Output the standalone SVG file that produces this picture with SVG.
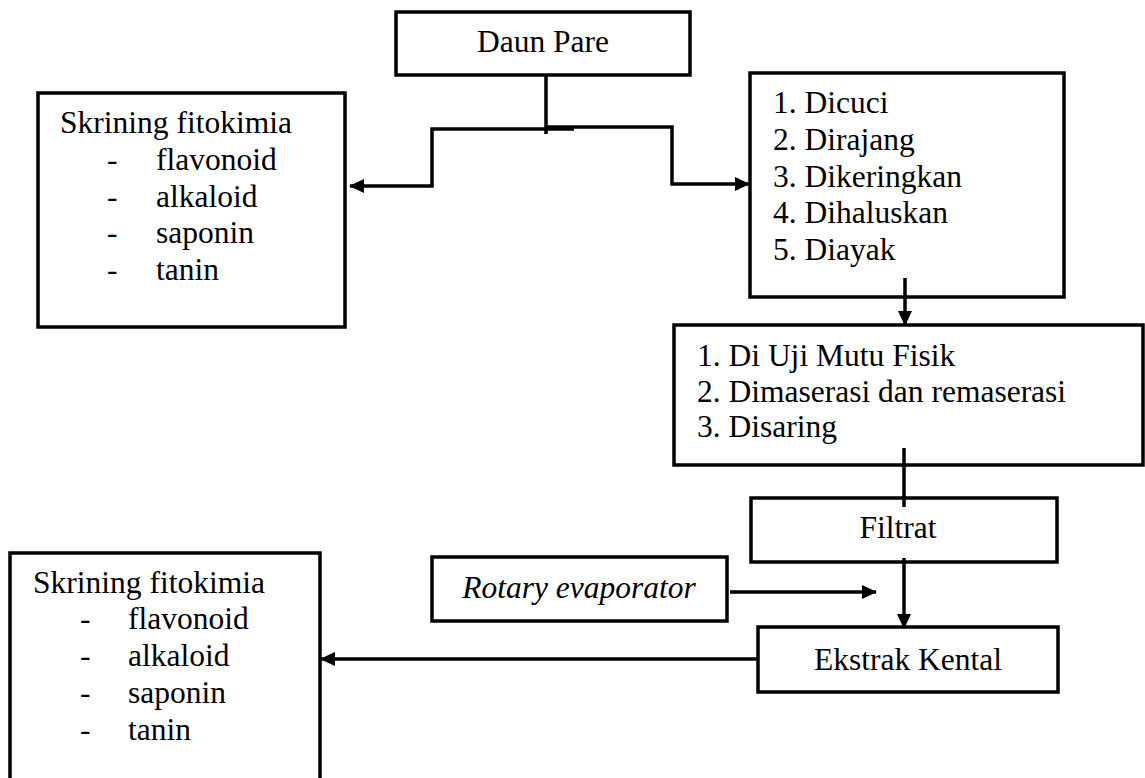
<svg xmlns="http://www.w3.org/2000/svg" width="1145" height="778" viewBox="0 0 1145 778">
<style>
.box{fill:#fff;stroke:#000;stroke-width:3.5}
.t{font-family:"Liberation Serif","Times New Roman",serif;font-size:31.5px;fill:#000}
.c{text-anchor:middle}
.i{font-style:italic}
.ln{fill:none;stroke:#000;stroke-width:3.5}
</style>
<defs>
<marker id="ah" markerUnits="userSpaceOnUse" markerWidth="15" markerHeight="14" refX="14" refY="7" orient="auto">
<path d="M0,0 L15,7 L0,14 z" fill="#000"/>
</marker>
</defs>
<rect width="1145" height="778" fill="#fff"/>
<g id="daun-pare">
<rect class="box" x="396" y="12" width="294" height="63"/>
<text class="t c" x="543" y="52">Daun Pare</text>
</g>
<g id="skrining-1">
<rect class="box" x="38" y="93" width="307" height="234"/>
<text class="t" x="60" y="133">Skrining fitokimia</text>
<text class="t" x="107" y="170">-</text><text class="t" x="156" y="170">flavonoid</text>
<text class="t" x="107" y="207">-</text><text class="t" x="156" y="207">alkaloid</text>
<text class="t" x="107" y="243">-</text><text class="t" x="156" y="243">saponin</text>
<text class="t" x="107" y="280">-</text><text class="t" x="156" y="280">tanin</text>
</g>
<g id="persiapan">
<rect class="box" x="750" y="73" width="314" height="224"/>
<text class="t" x="773" y="113">1. Dicuci</text>
<text class="t" x="773" y="150">2. Dirajang</text>
<text class="t" x="773" y="187">3. Dikeringkan</text>
<text class="t" x="773" y="223">4. Dihaluskan</text>
<text class="t" x="773" y="260">5. Diayak</text>
</g>
<g id="maserasi">
<rect class="box" x="674" y="325" width="469" height="140"/>
<text class="t" x="697" y="366">1. Di Uji Mutu Fisik</text>
<text class="t" x="697" y="402">2. Dimaserasi dan remaserasi</text>
<text class="t" x="697" y="437">3. Disaring</text>
</g>
<g id="filtrat">
<rect class="box" x="751" y="498" width="306" height="64"/>
<text class="t c" x="898" y="538">Filtrat</text>
</g>
<g id="rotary">
<rect class="box" x="432" y="557" width="295" height="64"/>
<text class="t c i" x="579" y="598">Rotary evaporator</text>
</g>
<g id="ekstrak">
<rect class="box" x="758" y="627" width="300" height="65"/>
<text class="t c" x="908" y="670">Ekstrak Kental</text>
</g>
<g id="skrining-2">
<rect class="box" x="10" y="553" width="310" height="240"/>
<text class="t" x="33" y="593">Skrining fitokimia</text>
<text class="t" x="80" y="629">-</text><text class="t" x="128" y="629">flavonoid</text>
<text class="t" x="80" y="666">-</text><text class="t" x="128" y="666">alkaloid</text>
<text class="t" x="80" y="703">-</text><text class="t" x="128" y="703">saponin</text>
<text class="t" x="80" y="740">-</text><text class="t" x="128" y="740">tanin</text>
</g>
<g id="connectors">
<path class="ln" d="M546,75 L546,134"/>
<path class="ln" d="M574,129 L432,129 L432,186 L350,186" marker-end="url(#ah)"/>
<path class="ln" d="M546,127 L672,127 L672,184 L749,184" marker-end="url(#ah)"/>
<path class="ln" d="M905,278 L905,325" marker-end="url(#ah)"/>
<path class="ln" d="M904,448 L904,507"/>
<path class="ln" d="M904,558 L904,628" marker-end="url(#ah)"/>
<path class="ln" d="M730,592 L876,592" marker-end="url(#ah)"/>
<path class="ln" d="M758,659 L321,659" marker-end="url(#ah)"/>
</g>
</svg>
